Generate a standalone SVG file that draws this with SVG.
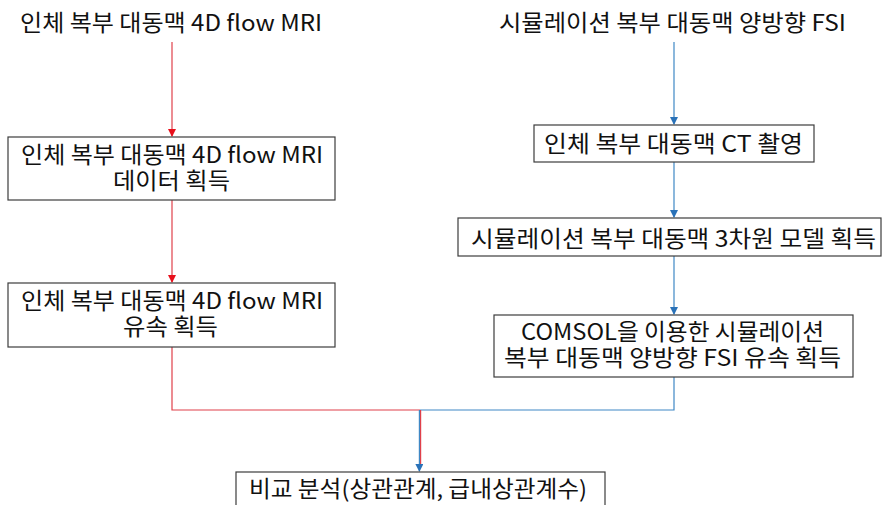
<svg xmlns="http://www.w3.org/2000/svg" width="882" height="505" viewBox="0 0 882 505">
<style>
text{font-family:"Malgun Gothic","Noto Sans CJK KR","Noto Sans",sans-serif;font-size:22.5px;fill:#111;text-anchor:middle}
.box{fill:#fff;stroke:#3c3c3c;stroke-width:1.2}
.r{fill:none;stroke:#e0404a;stroke-width:1.2}
.b{fill:none;stroke:#3f88c5;stroke-width:1.2}
</style>
<defs>
<marker id="ar" markerWidth="8" markerHeight="8" refX="7" refY="4" orient="auto" markerUnits="userSpaceOnUse"><path d="M0,0 L8,4 L0,8 Z" fill="#e8101c"/></marker>
<marker id="ab" markerWidth="8" markerHeight="8" refX="7" refY="4" orient="auto" markerUnits="userSpaceOnUse"><path d="M0,0 L8,4 L0,8 Z" fill="#2a72b8"/></marker>
</defs>
<g id="connectors">
<path class="r" d="M172,42 V136" marker-end="url(#ar)"/>
<path class="r" d="M172,200 V282" marker-end="url(#ar)"/>
<path class="r" d="M172,347 V410 H420"/>
<path class="b" d="M674,42 V124" marker-end="url(#ab)"/>
<path class="b" d="M674,162 V217" marker-end="url(#ab)"/>
<path class="b" d="M674,256 V314" marker-end="url(#ab)"/>
<path class="b" d="M674,377 V410 H420"/>
<path class="r" d="M420.6,410 V465"/>
<path class="b" d="M419.4,410 V471" marker-end="url(#ab)"/>
</g>
<g id="title-left"><text x="171" y="31" textLength="302" lengthAdjust="spacingAndGlyphs">인체 복부 대동맥 4D flow MRI</text></g>
<g id="title-right"><text x="672.5" y="31" textLength="347" lengthAdjust="spacingAndGlyphs">시뮬레이션 복부 대동맥 양방향 FSI</text></g>
<g id="n1"><rect class="box" x="8" y="137" width="327" height="63"/><text><tspan x="172" y="163" textLength="302" lengthAdjust="spacingAndGlyphs">인체 복부 대동맥 4D flow MRI</tspan><tspan x="171.5" y="189" textLength="117" lengthAdjust="spacingAndGlyphs">데이터 획득</tspan></text></g>
<g id="n2"><rect class="box" x="8" y="283" width="327" height="64"/><text><tspan x="172" y="309" textLength="302" lengthAdjust="spacingAndGlyphs">인체 복부 대동맥 4D flow MRI</tspan><tspan x="170.5" y="335" textLength="95" lengthAdjust="spacingAndGlyphs">유속 획득</tspan></text></g>
<g id="n3"><rect class="box" x="534" y="125" width="280" height="37"/><text x="673.5" y="152" textLength="259" lengthAdjust="spacingAndGlyphs">인체 복부 대동맥 CT 촬영</text></g>
<g id="n4"><rect class="box" x="458" y="218" width="423" height="38"/><text x="673.5" y="247" textLength="405" lengthAdjust="spacingAndGlyphs">시뮬레이션 복부 대동맥 3차원 모델 획득</text></g>
<g id="n5"><rect class="box" x="494" y="315" width="359" height="62"/><text><tspan x="672.5" y="340" textLength="303" lengthAdjust="spacingAndGlyphs">COMSOL을 이용한 시뮬레이션</tspan><tspan x="672.5" y="366" textLength="337" lengthAdjust="spacingAndGlyphs">복부 대동맥 양방향 FSI 유속 획득</tspan></text></g>
<g id="n6"><rect class="box" x="236" y="472" width="369" height="45"/><text x="418" y="497" textLength="338" lengthAdjust="spacingAndGlyphs">비교 분석(상관관계, 급내상관계수)</text></g>
</svg>
